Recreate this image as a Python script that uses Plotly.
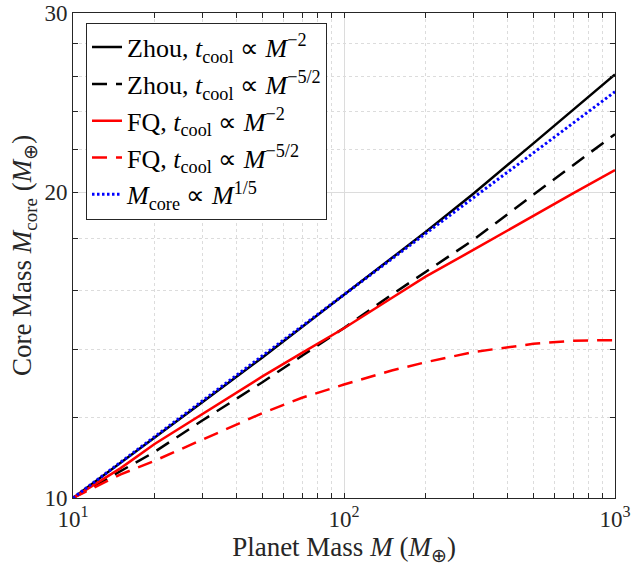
import plotly.graph_objects as go

# Planet mass (M_earth)
planet_mass = [10, 15, 20, 30, 50, 70, 100, 150, 200, 300, 500, 700, 1000]

# Core mass curves (M_earth)
zhou_m2 = [10, 10.83, 11.45, 12.42, 13.75, 14.74, 15.85, 17.22, 18.27, 19.92, 22.33, 24.08, 26.1]
zhou_m52 = [10, 10.62, 11.1, 11.92, 13.0, 13.8, 14.7, 15.85, 16.7, 17.94, 19.88, 21.25, 22.8]
fq_m2 = [10, 10.7, 11.3, 12.1, 13.17, 13.89, 14.69, 15.73, 16.51, 17.54, 18.97, 19.94, 21.02]
fq_m52 = [10, 10.55, 10.88, 11.42, 12.12, 12.55, 12.93, 13.35, 13.6, 13.92, 14.18, 14.28, 14.3]
powerlaw = [10, 10.84, 11.49, 12.46, 13.8, 14.76, 15.85, 17.18, 18.2, 19.74, 21.87, 23.39, 25.1]

series_names = [
    "Zhou, <i>t</i><sub>cool</sub> ∝ <i>M</i><sup>−2</sup>",
    "Zhou, <i>t</i><sub>cool</sub> ∝ <i>M</i><sup>−5/2</sup>",
    "FQ, <i>t</i><sub>cool</sub> ∝ <i>M</i><sup>−2</sup>",
    "FQ, <i>t</i><sub>cool</sub> ∝ <i>M</i><sup>−5/2</sup>",
    "<i>M</i><sub>core</sub> ∝ <i>M</i><sup>1/5</sup>",
]

x_major = [10, 100, 1000]
x_major_text = ["10<sup>1</sup>", "10<sup>2</sup>", "10<sup>3</sup>"]
x_minor = [20, 30, 40, 50, 60, 70, 80, 90, 200, 300, 400, 500, 600, 700, 800, 900]
y_major = [10, 20, 30]
y_major_text = ["10", "20", "30"]
y_minor = [12, 14, 16, 18, 22, 24, 26, 28]

FONT = "Liberation Serif"
AX = "#262626"
GRID = "#dcdcdc"

styles = [
    dict(color="black", width=2.5, dash="solid"),
    dict(color="black", width=2.5, dash="15px,9px"),
    dict(color="#ff0000", width=2.5, dash="solid"),
    dict(color="#ff0000", width=2.5, dash="15px,9px"),
    dict(color="#0000ff", width=3, dash="2.5px,2.5px"),
]

fig = go.Figure()
for i, (name, ys) in enumerate(zip(series_names, [zhou_m2, zhou_m52, fq_m2, fq_m52, powerlaw])):
    fig.add_trace(go.Scatter(x=planet_mass, y=ys, mode="lines", name=name,
                             line=styles[i], legendgroup=f"g{i}"))

axis_common = dict(
    type="log", showline=True, linecolor=AX, linewidth=1, mirror="allticks",
    ticks="inside", ticklen=5, tickcolor=AX, tickwidth=1, automargin=False,
    showgrid=True, gridcolor=GRID, gridwidth=1, zeroline=False,
    tickfont=dict(family=FONT, size=23, color=AX),
)
minor_common = dict(tickmode="array", ticks="inside", ticklen=5, tickcolor=AX,
                    showgrid=True, gridcolor=GRID, griddash="dot", gridwidth=1)

fig.update_layout(
    width=632, height=580,
    margin=dict(l=73, r=17, t=13, b=82),
    paper_bgcolor="white", plot_bgcolor="white",
    font=dict(family=FONT, size=23, color=AX),
    xaxis=dict(**axis_common, range=[1, 3], tickmode="array", tickvals=x_major, ticktext=x_major_text,
               minor=dict(**minor_common, tickvals=x_minor),
               title=dict(text="Planet Mass <i>M</i> (<i>M</i><sub>⊕</sub>)",
                          font=dict(family=FONT, size=27, color=AX), standoff=6)),
    yaxis=dict(**axis_common, range=[1, 1.4771212547], tickmode="array", tickvals=y_major, ticktext=y_major_text,
               minor=dict(**minor_common, tickvals=y_minor),
               title=dict(text="Core Mass <i>M</i><sub>core</sub> (<i>M</i><sub>⊕</sub>)",
                          font=dict(family=FONT, size=27, color=AX), standoff=4)),
    legend=dict(x=0.024, y=0.98, xanchor="left", yanchor="top", bgcolor="white",
                bordercolor=AX, borderwidth=1, font=dict(family=FONT, size=26, color="black"),
                tracegroupgap=0, traceorder="grouped"),
    showlegend=True,
)

fig.write_html("out.html")
